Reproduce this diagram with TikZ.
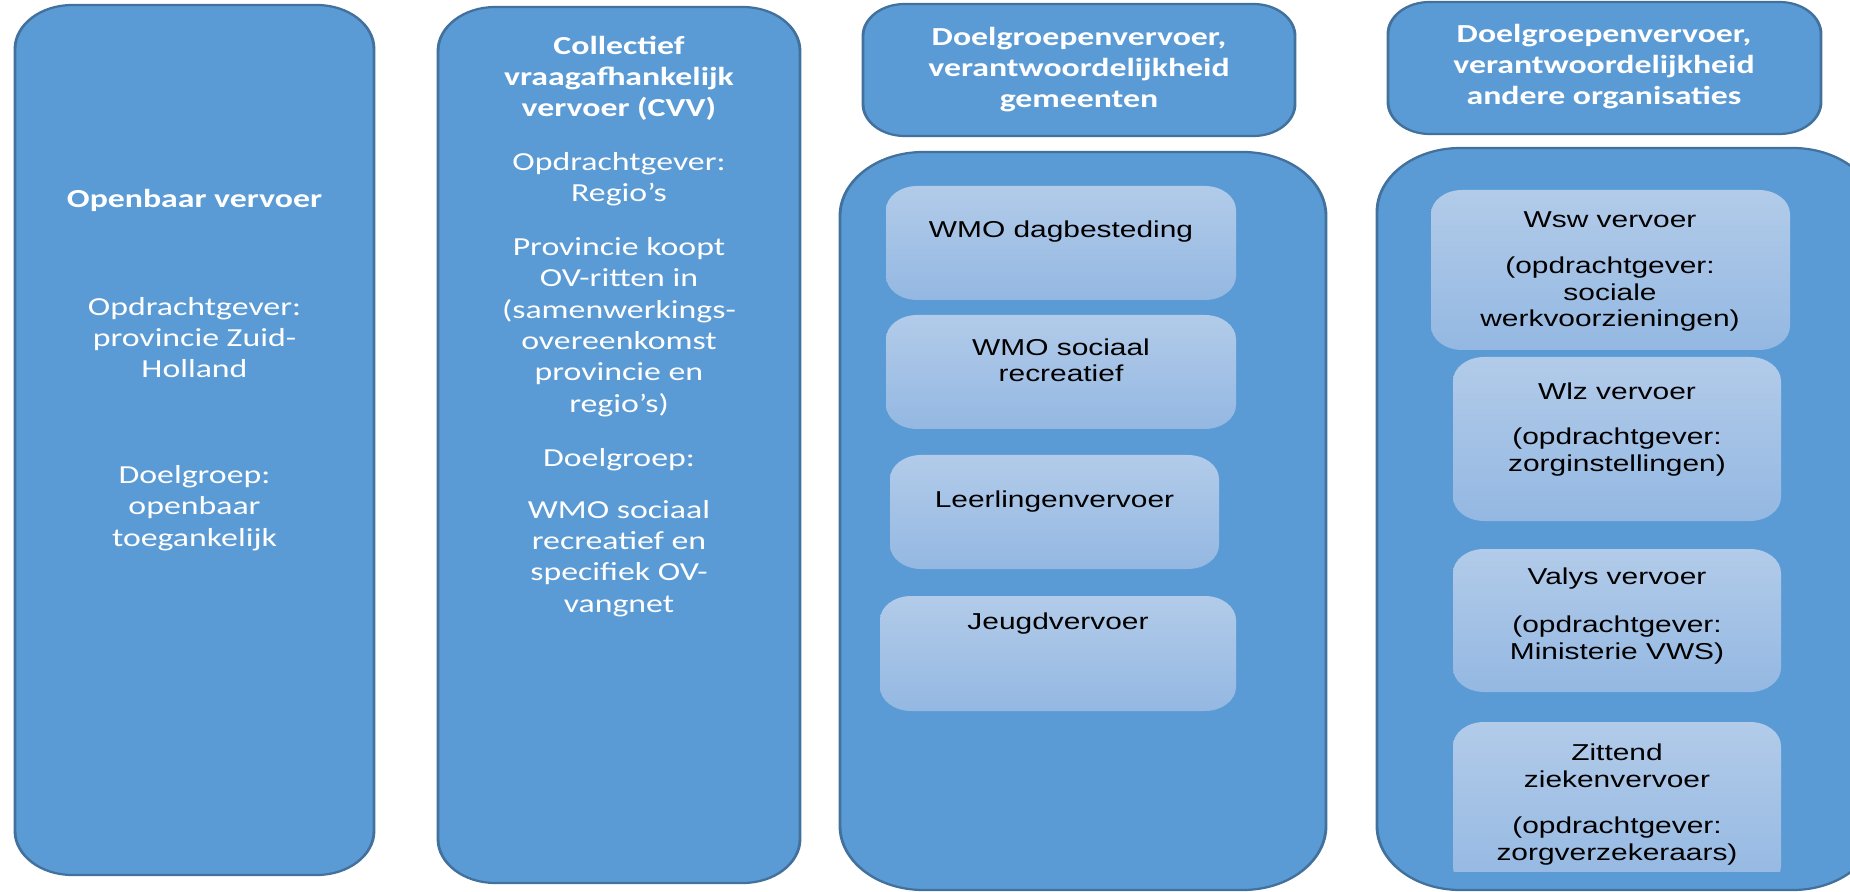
\documentclass[tikz,border=0pt]{standalone}
\usepackage{fontspec}
\setmainfont{Carlito}
\newfontfamily\arialfont{Liberation Sans}
\definecolor{boxblue}{HTML}{5B9BD5}
\definecolor{boxline}{HTML}{41719C}
\definecolor{innertop}{HTML}{B2CBE9}
\definecolor{innerbot}{HTML}{94B8E2}
\tikzset{
  bigbox/.style={fill=boxblue, draw=boxline, line width=1.1pt},
  innerbox/.style={top color=innertop, bottom color=innerbot, draw=none, rounded corners=12pt},
  wtxt/.style={text=white, align=center, inner sep=0pt, font=\fontsize{13}{15.65}\selectfont},
  wbold/.style={wtxt, font=\fontsize{13}{15.65}\selectfont\bfseries},
  btxt/.style={text=black, align=center, inner sep=0pt, font=\arialfont\fontsize{11.5}{13.25}\selectfont},
}
\begin{document}
\begin{tikzpicture}[x=0.5pt,y=-0.5pt]
\useasboundingbox (0,0) rectangle (1850,892);
\clip (0,0) rectangle (1850,892);
\begin{scope}[x=0.384615pt, transform canvas={xscale=1.3}]
  % main boxes
  \draw[bigbox, rounded corners=22pt] (15,5) rectangle (374,875);
  \draw[bigbox, rounded corners=22pt] (438,7) rectangle (800,883);
  \draw[bigbox, rounded corners=16pt] (863,4) rectangle (1295,136);
  \draw[bigbox, rounded corners=16pt] (1388,2) rectangle (1821,134);
  \draw[bigbox, rounded corners=32pt] (840,152) rectangle (1326,890);
  \draw[bigbox, rounded corners=32pt] (1377,148) rectangle (1876,890);
  % inner boxes
  \shade[innerbox] (886,186) rectangle (1236,300);
  \shade[innerbox] (886,315) rectangle (1236,429);
  \shade[innerbox] (890,455) rectangle (1219,569);
  \shade[innerbox] (880,596) rectangle (1236,711);
  \shade[innerbox] (1431,190) rectangle (1790,350);
  \shade[innerbox] (1453,357) rectangle (1781,521);
  \shade[innerbox] (1453,549) rectangle (1781,692);
  \begin{scope}
    \clip (1440,700) rectangle (1800,871);
    \shade[innerbox] (1453,722) rectangle (1781,890);
  \end{scope}
  % texts column 1
  \node[wbold] (ovtitle) at (194.5,200) {Openbaar vervoer};
  \node[wtxt] (ovopdr) at (194.5,337.5) {Opdrachtgever:\\provincie Zuid-\\Holland};
  \node[wtxt] (ovdoel) at (194.5,508) {Doelgroep:\\openbaar\\toegankelijk};
  % column 2
  \node[wbold] (cvvtitle) at (619,78.5) {Collectief\\vraagafhankelijk\\vervoer (CVV)};
  \node[wtxt] (cvvopdr) at (619,179) {Opdrachtgever:\\Regio’s};
  \node[wtxt] (cvvprov) at (619,327) {Provincie koopt\\OV-ritten in\\(samenwerkings-\\overeenkomst\\provincie en\\regio’s)};
  \node[wtxt] (cvvdoel) at (619,460) {Doelgroep:};
  \node[wtxt] (cvvwmo) at (619,558.5) {WMO sociaal\\recreatief en\\specifiek OV-\\vangnet};
  % headers
  \node[wbold] (gemhead) at (1079,69.5) {Doelgroepenvervoer,\\verantwoordelijkheid\\gemeenten};
  \node[wbold] (andhead) at (1604,66.5) {Doelgroepenvervoer,\\verantwoordelijkheid\\andere organisaties};
  % column 3 inner
  \node[btxt] (wmodag) at (1061,232) {WMO dagbesteding};
  \node[btxt] (wmosoc) at (1061,360.5) {WMO sociaal\\recreatief};
  \node[btxt] (leerl) at (1054.5,502) {Leerlingenvervoer};
  \node[btxt] (jeugd) at (1058,624) {Jeugdvervoer};
  % column 4 inner
  \node[btxt] (wsw) at (1610,220) {Wsw vervoer};
  \node[btxt] (wswopdr) at (1610,294.5) {(opdrachtgever:\\sociale\\werkvoorzieningen)};
  \node[btxt] (wlz) at (1617,391) {Wlz vervoer};
  \node[btxt] (wlzopdr) at (1617,452) {(opdrachtgever:\\zorginstellingen)};
  \node[btxt] (valys) at (1617,579) {Valys vervoer};
  \node[btxt] (valysopdr) at (1617,640) {(opdrachtgever:\\Ministerie VWS)};
  \node[btxt] (zit) at (1617,766) {Zittend\\ziekenvervoer};
  \node[btxt] (zitopdr) at (1617,841) {(opdrachtgever:\\zorgverzekeraars)};
\end{scope}
\end{tikzpicture}
\end{document}
